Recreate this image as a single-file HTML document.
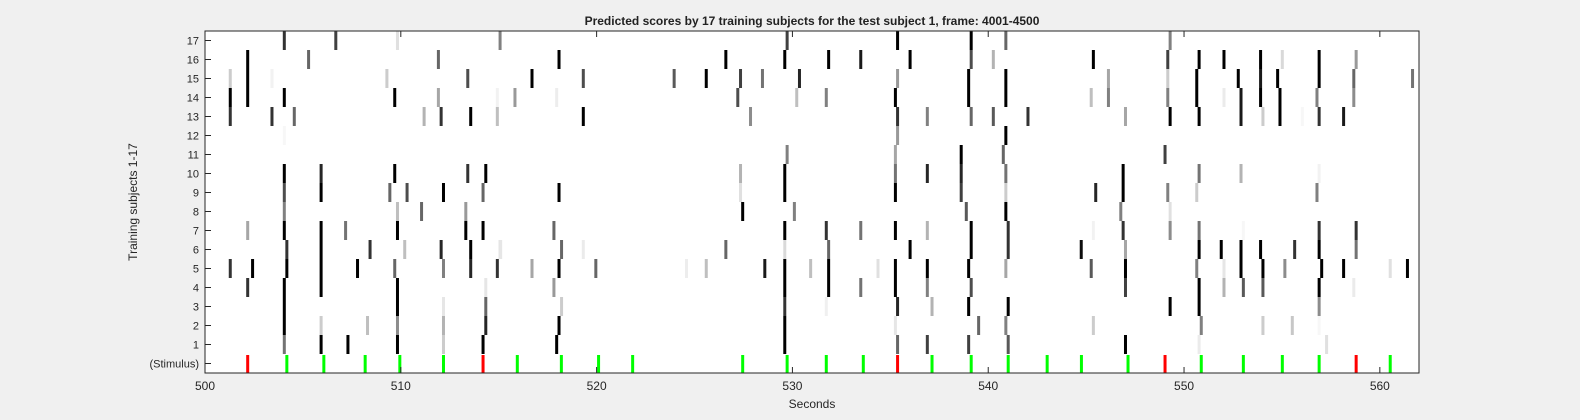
<!DOCTYPE html>
<html><head><meta charset="utf-8"><style>
html,body{margin:0;padding:0;background:#f0f0f0;}
svg{display:block;font-family:"Liberation Sans",Arial,sans-serif;}
</style></head><body>
<svg id="chart" width="1580" height="420" viewBox="0 0 1580 420" xmlns="http://www.w3.org/2000/svg">
<rect x="0" y="0" width="1580" height="420" fill="#f0f0f0"/>
<text x="812" y="25" text-anchor="middle" font-size="12" font-weight="bold" fill="#222">Predicted scores by 17 training subjects for the test subject 1, frame: 4001-4500</text>
<rect x="205" y="31" width="1214" height="342" fill="#fff"/>
<g id="marks"></g>
<g id="stim"></g>
<g id="axes"></g>
<rect x="205" y="31" width="1214" height="342" fill="none" stroke="#262626" stroke-width="1"/>
<text x="812" y="408" text-anchor="middle" font-size="12" fill="#262626">Seconds</text>
<text transform="translate(137,202) rotate(-90)" text-anchor="middle" font-size="12" fill="#262626">Training subjects 1-17</text>
</svg>
<script>
const xTicks = [500, 510, 520, 530, 540, 550, 560];
const yLabels = ["(Stimulus)","1","2","3","4","5","6","7","8","9","10","11","12","13","14","15","16","17"];
const stimGreen = [504.18,506.07,508.18,509.95,512.18,515.95,518.20,520.10,521.84,527.46,529.73,531.73,533.62,537.13,539.13,541.02,543.01,544.76,547.14,550.88,553.03,555.02,556.90,560.53];
const stimRed = [502.18,514.20,535.37,549.03,558.79];
const r1 = [[504.05,0.55],[505.93,1],[507.30,1],[509.83,1],[512.18,0.2],[514.20,1],[517.96,1],[529.61,1],[535.37,0.6],[536.89,0.75],[539.00,0.75],[541.02,0.65],[547.01,1],[550.77,0.08],[557.28,0.12]];
const r2 = [[504.05,1],[505.93,0.2],[508.30,0.25],[509.83,0.45],[512.18,0.3],[514.34,0.85],[518.08,1],[529.61,1],[535.26,0.1],[539.51,0.6],[540.90,0.5],[545.37,0.2],[550.88,0.5],[554.03,0.2],[555.53,0.22],[556.90,0.03]];
const r3 = [[504.05,1],[509.83,1],[512.18,0.1],[514.34,0.6],[518.21,0.2],[529.61,0.8],[531.73,0.06],[535.37,0.85],[537.13,0.3],[539.00,1],[541.02,1],[549.29,1],[550.77,1],[556.90,0.45]];
const r4 = [[502.18,0.8],[504.05,1],[505.93,1],[509.83,1],[514.34,0.1],[517.82,0.4],[529.61,1],[531.85,1],[533.49,0.55],[535.26,1],[536.89,0.5],[539.13,0.7],[547.01,0.75],[550.77,1],[552.04,0.3],[553.03,0.65],[554.03,0.65],[556.90,1],[558.67,0.08]];
const r5 = [[501.29,0.8],[502.43,1],[504.18,1],[505.93,1],[507.79,1],[509.69,0.6],[512.18,0.5],[513.57,0.85],[514.93,0.8],[516.70,0.35],[518.08,1],[519.96,0.6],[524.59,0.07],[525.60,0.25],[528.59,0.9],[529.61,1],[530.93,0.25],[531.85,1],[534.37,0.12],[535.26,1],[536.89,1],[539.00,1],[540.90,0.35],[545.26,0.65],[547.01,1],[550.65,0.5],[552.04,0.1],[552.91,1],[554.03,1],[555.15,0.45],[557.03,1],[558.15,1],[560.53,0.12],[561.41,1]];
const r6 = [[504.18,0.8],[505.93,1],[508.43,0.8],[510.20,0.25],[512.06,0.85],[513.57,1],[515.07,0.12],[515.10,0.1],[518.21,0.6],[519.32,0.08],[526.60,0.6],[529.61,0.15],[531.85,0.6],[536.01,1],[539.13,1],[541.02,0.8],[544.75,0.95],[547.01,0.35],[550.77,1],[551.90,1],[552.91,1],[553.91,1],[555.65,0.8],[556.90,1],[558.79,0.55]];
const r7 = [[502.18,0.35],[504.05,1],[505.93,1],[507.18,0.55],[509.83,1],[513.32,1],[514.20,1],[517.82,0.6],[529.61,1],[531.73,0.8],[533.49,0.55],[535.26,1],[536.89,0.3],[539.13,1],[541.02,0.8],[545.37,0.05],[546.89,0.8],[549.29,0.45],[550.77,0.55],[553.03,0.03],[556.90,0.8],[558.79,0.8]];
const r8 = [[504.05,0.5],[509.83,0.25],[511.06,0.6],[513.32,0.4],[527.46,1],[530.10,0.5],[538.88,0.65],[540.90,1],[546.77,0.5],[549.29,0.12]];
const r9 = [[504.05,0.7],[505.93,1],[509.44,0.6],[510.32,0.7],[512.18,1],[514.20,0.6],[518.08,1],[527.35,0.12],[529.61,1],[535.26,1],[538.62,0.75],[540.90,0.2],[545.49,0.85],[546.89,1],[549.17,0.5],[550.65,0.2],[556.79,0.5]];
const r10 = [[504.05,1],[505.93,0.85],[509.69,1],[513.42,0.8],[514.34,1],[527.35,0.3],[529.61,1],[535.26,0.55],[536.89,0.85],[538.62,0.85],[540.90,0.55],[546.89,1],[550.77,0.55],[552.91,0.3],[556.90,0.05]];
const r11 = [[529.73,0.5],[535.26,0.35],[538.62,1],[540.77,0.6],[549.03,0.75]];
const r12 = [[504.05,0.03],[535.37,0.4],[540.90,1]];
const r13 = [[501.29,0.8],[503.42,0.8],[504.56,0.6],[511.19,0.3],[512.06,0.8],[513.57,1],[514.93,0.25],[519.32,1],[527.86,0.45],[535.37,0.8],[536.89,0.5],[539.13,0.6],[540.26,0.65],[542.03,0.8],[547.01,0.35],[549.29,1],[550.77,1],[552.91,0.9],[554.03,0.2],[554.90,1],[556.04,0.03],[556.90,0.8],[558.15,0.9]];
const r14 = [[501.29,1],[502.18,1],[504.05,1],[509.69,1],[511.92,0.35],[514.93,0.05],[515.83,0.4],[517.96,0.07],[527.21,0.7],[530.22,0.25],[531.73,0.5],[535.26,1],[539.00,1],[540.90,1],[545.26,0.25],[546.14,0.5],[549.17,0.5],[550.65,1],[552.04,0.08],[552.91,0.9],[553.91,1],[554.90,1],[556.79,0.5],[558.67,0.45]];
const r15 = [[501.29,0.2],[502.18,1],[503.42,0.05],[509.29,0.2],[513.42,0.7],[516.70,1],[519.32,0.7],[523.96,0.65],[525.60,1],[527.35,0.75],[528.47,0.55],[530.36,0.85],[535.37,0.4],[539.00,1],[540.90,1],[546.14,0.35],[549.17,0.2],[550.65,1],[552.77,1],[553.91,0.9],[554.78,1],[556.90,1],[558.67,0.6],[561.67,0.55]];
const r16 = [[502.18,1],[505.29,0.6],[511.92,0.6],[518.08,1],[526.60,1],[529.61,1],[531.85,1],[533.49,0.9],[536.01,1],[539.13,0.7],[540.26,0.3],[545.37,1],[549.17,0.75],[550.77,1],[552.04,1],[553.91,1],[555.02,0.15],[556.90,1],[558.79,0.4]];
const r17 = [[504.05,0.8],[506.68,0.75],[509.83,0.12],[515.07,0.5],[529.73,0.75],[535.37,1],[539.13,1],[540.90,0.6],[549.29,0.5]];
const rows = [r1,r2,r3,r4,r5,r6,r7,r8,r9,r10,r11,r12,r13,r14,r15,r16,r17];

const NS = "http://www.w3.org/2000/svg";
const PL = 205, PT = 31, PW = 1214, PH = 342, XMIN = 500, XMAX = 562;
const RH = PH / 18;
function xScale(t){ return PL + (t - XMIN) / (XMAX - XMIN) * PW; }
function rowTop(i){ return PT + (17 - i) * RH; } // i: 0 = stimulus, 17 = top
function mk(tag, attrs){ const e = document.createElementNS(NS, tag); for (const k in attrs) e.setAttribute(k, attrs[k]); return e; }

const marks = document.getElementById('marks');
rows.forEach((row, ri) => {
  row.forEach(([t, s]) => {
    const g = Math.round(255 * (1 - s));
    const r = mk('rect', {x: (xScale(t) - 1.5).toFixed(2), y: rowTop(ri + 1).toFixed(2), width: 3, height: RH.toFixed(2), fill: `rgb(${g},${g},${g})`});
    
    
    marks.appendChild(r);
  });
});
const stim = document.getElementById('stim');
stimGreen.forEach(t => {
  const r = mk('rect', {x: (xScale(t) - 1.5).toFixed(2), y: (rowTop(0) + 1).toFixed(2), width: 3, height: (RH - 1).toFixed(2), fill: '#00ff00'});
  
  
  stim.appendChild(r);
});
stimRed.forEach(t => {
  const r = mk('rect', {x: (xScale(t) - 1.5).toFixed(2), y: (rowTop(0) + 1).toFixed(2), width: 3, height: (RH - 1).toFixed(2), fill: '#ff0000'});
  
  
  stim.appendChild(r);
});

const axes = document.getElementById('axes');
xTicks.forEach(v => {
  const x = xScale(v);
  const tk = mk('line', {x1: x, x2: x, y1: PT + PH, y2: PT + PH - 6, stroke: '#262626', 'stroke-width': 1});
  
  
  axes.appendChild(tk);
  const tk2 = mk('line', {x1: x, x2: x, y1: PT, y2: PT + 6, stroke: '#262626', 'stroke-width': 1});
  
  
  axes.appendChild(tk2);
  const lb = mk('text', {x: x, y: PT + PH + 17, 'text-anchor': 'middle', 'font-size': 12, fill: '#262626'});
  lb.textContent = v;
  
  
  axes.appendChild(lb);
});
yLabels.forEach((lab, i) => {
  const yc = rowTop(i) + RH / 2;
  const tk = mk('line', {x1: PL, x2: PL + 6, y1: yc, y2: yc, stroke: '#262626', 'stroke-width': 1});
  
  
  axes.appendChild(tk);
  const lb = mk('text', {x: PL - 6, y: yc + 4, 'text-anchor': 'end', 'font-size': 11, fill: '#262626'});
  lb.textContent = lab;
  
  
  axes.appendChild(lb);
});
</script>
</body></html>
